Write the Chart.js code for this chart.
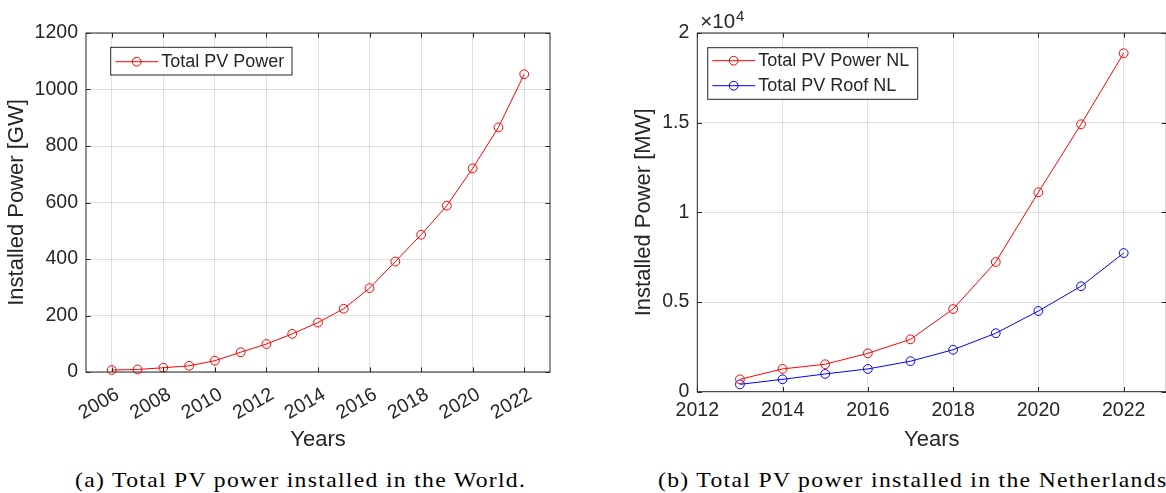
<!DOCTYPE html>
<html>
<head>
<meta charset="utf-8">
<script src="https://cdn.jsdelivr.net/npm/chart.js@4/dist/chart.umd.min.js"></script>
<style>
  html, body { margin: 0; padding: 0; background: #fff; overflow: hidden; }
  body { width: 1166px; height: 493px; position: relative; }
  canvas { position: absolute; top: 0; }
  #world { left: 0; }
  #nl { left: 600px; }
  .caption {
    position: absolute; top: 469px; white-space: nowrap;
    font-family: 'Liberation Serif', serif; font-size: 21.5px; line-height: 22px;
    color: #000; letter-spacing: 1.2px; transform: scaleX(1.1); transform-origin: left top;
  }
</style>
</head>
<body>
<canvas id="world" width="583" height="455"></canvas>
<canvas id="nl" width="600" height="455"></canvas>
<div class="caption" style="left:75px">(a) Total PV power installed in the World.</div>
<div class="caption" style="left:658px">(b) Total PV power installed in the Netherlands.</div>
<script>
// World data (GW)
const worldYears = [2006, 2007, 2008, 2009, 2010, 2011, 2012, 2013, 2014, 2015, 2016, 2017, 2018, 2019, 2020, 2021, 2022];
const worldPower = [7, 9, 15, 22, 40, 70, 99, 135, 175, 224, 297, 391, 486, 589, 721, 866, 1054];
const worldXTicks = [2006, 2008, 2010, 2012, 2014, 2016, 2018, 2020, 2022];
const worldYTicks = [0, 200, 400, 600, 800, 1000, 1200];

// Netherlands data (MW)
const nlYears = [2013, 2014, 2015, 2016, 2017, 2018, 2019, 2020, 2021, 2022];
const nlTotal = [690, 1270, 1530, 2140, 2920, 4610, 7230, 11120, 14910, 18870];
const nlRoof = [410, 690, 990, 1270, 1700, 2340, 3260, 4500, 5880, 7730];
const nlXTicks = [2012, 2014, 2016, 2018, 2020, 2022];
const nlYTicks = [0, 5000, 10000, 15000, 20000];
const nlYTickLabels = ['0', '0.5', '1', '1.5', '2'];

Chart.defaults.font.family = "'Liberation Sans', Arial, sans-serif";
Chart.defaults.color = '#262626';

const TXT = '#262626';
const GRID = 'rgba(38,38,38,0.15)';

// MATLAB-like box, inward ticks, legend box and exponent label
const matlabAxes = {
  id: 'matlabAxes',
  afterDatasetsDraw(chart, args, opts) {
    const { ctx, chartArea: a, scales: { x, y } } = chart;
    ctx.save();
    ctx.strokeStyle = TXT;
    ctx.lineWidth = 1;
    ctx.strokeRect(a.left, a.top, a.right - a.left, a.bottom - a.top);
    const tl = 0.01 * Math.max(a.right - a.left, a.bottom - a.top);
    ctx.beginPath();
    x.ticks.forEach(t => {
      const px = Math.round(x.getPixelForValue(t.value)) + 0.5;
      ctx.moveTo(px, a.bottom); ctx.lineTo(px, a.bottom - tl);
      ctx.moveTo(px, a.top); ctx.lineTo(px, a.top + tl);
    });
    y.ticks.forEach(t => {
      const py = Math.round(y.getPixelForValue(t.value)) + 0.5;
      ctx.moveTo(a.left, py); ctx.lineTo(a.left + tl, py);
      ctx.moveTo(a.right, py); ctx.lineTo(a.right - tl, py);
    });
    ctx.stroke();

    if (opts.exponent) {
      ctx.fillStyle = TXT;
      ctx.textBaseline = 'alphabetic';
      ctx.font = "20.5px 'Liberation Sans'";
      ctx.fillText('\u00d710', a.left + 3, a.top - 5);
      const w = ctx.measureText('\u00d710').width;
      ctx.font = "15px 'Liberation Sans'";
      ctx.fillText(opts.exponent, a.left + 3 + w + 1, a.top - 12.5);
    }

    const lg = opts.legend;
    if (lg) {
      const sets = chart.data.datasets;
      const bx = a.left + lg.dx, by = a.top + lg.dy;
      ctx.fillStyle = '#fff';
      ctx.fillRect(bx, by, lg.w, lg.h);
      ctx.strokeStyle = TXT;
      ctx.strokeRect(bx, by, lg.w, lg.h);
      ctx.font = "18px 'Liberation Sans'";
      ctx.textBaseline = 'middle';
      sets.forEach((ds, i) => {
        const cy = by + lg.first + i * lg.step;
        ctx.strokeStyle = ds.borderColor;
        ctx.beginPath();
        ctx.moveTo(bx + 4.6, cy); ctx.lineTo(bx + 47.6, cy);
        ctx.stroke();
        ctx.beginPath();
        ctx.arc(bx + 26, cy, 4.4, 0, Math.PI * 2);
        ctx.stroke();
        ctx.fillStyle = TXT;
        ctx.fillText(ds.label, bx + 50.5, cy + 0.5);
      });
    }
    ctx.restore();
  }
};

function lineSet(label, data, color) {
  return {
    label, data,
    borderColor: color, borderWidth: 1,
    pointStyle: 'circle', pointRadius: 4.4, pointBorderWidth: 1,
    pointBorderColor: color, pointBackgroundColor: 'rgba(0,0,0,0)',
    tension: 0, clip: false
  };
}

function fixed(size) {
  return s => { if (s.isHorizontal()) s.height = size; else s.width = size; };
}

// Left: world
new Chart(document.getElementById('world'), {
  type: 'line',
  data: {
    datasets: [lineSet('Total PV Power', worldYears.map((v, i) => ({ x: v, y: worldPower[i] })), '#ff0000')]
  },
  options: {
    responsive: false, animation: false, devicePixelRatio: 1,
    layout: { padding: { left: 0, top: 33, right: 33, bottom: 0 } },
    plugins: {
      legend: { display: false }, tooltip: { enabled: false },
      matlabAxes: { legend: { dx: 24.7, dy: 14.3, w: 181.3, h: 27.7, first: 14.4, step: 25 } }
    },
    scales: {
      x: {
        type: 'linear', min: 2005, max: 2023,
        afterBuildTicks: s => { s.ticks = worldXTicks.map(v => ({ value: v })); },
        afterFit: fixed(83),
        grid: { color: GRID, drawTicks: false },
        border: { display: false },
        ticks: { autoSkip: false, minRotation: 30, maxRotation: 30, padding: 11, labelOffset: 6, font: { size: 19.5 }, color: TXT, callback: v => String(v) },
        title: { display: true, text: 'Years', font: { size: 22 }, color: TXT, padding: { top: 0, bottom: 1.8 } }
      },
      y: {
        min: 0, max: 1200,
        afterBuildTicks: s => { s.ticks = worldYTicks.map(v => ({ value: v })); },
        afterFit: fixed(86),
        grid: { color: GRID, drawTicks: false },
        border: { display: false },
        ticks: { padding: 8, font: { size: 19.5 }, color: TXT, callback: v => String(v) },
        title: { display: true, text: 'Installed Power [GW]', font: { size: 22 }, color: TXT, padding: { top: 3.8, bottom: 0 } }
      }
    }
  },
  plugins: [matlabAxes]
});

// Right: Netherlands
new Chart(document.getElementById('nl'), {
  type: 'line',
  data: {
    datasets: [
      lineSet('Total PV Power NL', nlYears.map((v, i) => ({ x: v, y: nlTotal[i] })), '#ff0000'),
      lineSet('Total PV Roof NL', nlYears.map((v, i) => ({ x: v, y: nlRoof[i] })), '#0000ff')
    ]
  },
  options: {
    responsive: false, animation: false, devicePixelRatio: 1,
    layout: { padding: { left: 0, top: 33, right: 33.7, bottom: 0 } },
    plugins: {
      legend: { display: false }, tooltip: { enabled: false },
      matlabAxes: { exponent: '4', legend: { dx: 10.4, dy: 14.7, w: 210, h: 51.6, first: 13, step: 25 } }
    },
    scales: {
      x: {
        type: 'linear', min: 2012, max: 2023,
        afterBuildTicks: s => { s.ticks = nlXTicks.map(v => ({ value: v })); },
        afterFit: fixed(63.3),
        grid: { color: GRID, drawTicks: false },
        border: { display: false },
        ticks: { autoSkip: false, minRotation: 0, maxRotation: 0, padding: 7, font: { size: 19.5 }, color: TXT, callback: v => String(v) },
        title: { display: true, text: 'Years', font: { size: 22 }, color: TXT, padding: { top: 0, bottom: 1.8 } }
      },
      y: {
        min: 0, max: 20000,
        afterBuildTicks: s => { s.ticks = nlYTicks.map(v => ({ value: v })); },
        afterFit: fixed(97.3),
        grid: { color: GRID, drawTicks: false },
        border: { display: false },
        ticks: { padding: 8, font: { size: 19.5 }, color: TXT, callback: (v, i) => nlYTickLabels[i] },
        title: { display: true, text: 'Installed Power [MW]', font: { size: 22 }, color: TXT, padding: { top: 30.3, bottom: 0 } }
      }
    }
  },
  plugins: [matlabAxes]
});
</script>
</body>
</html>
